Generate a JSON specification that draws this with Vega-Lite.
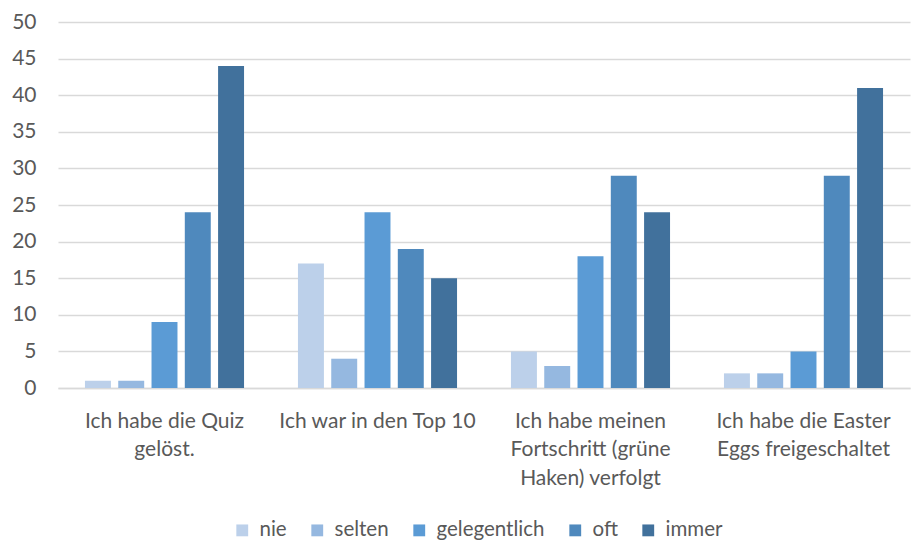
{
  "$schema": "https://vega.github.io/schema/vega-lite/v6.json",
  "autosize": "none",
  "width": 852,
  "height": 366,
  "padding": {"left": 58, "top": 22, "right": 9, "bottom": 154},
  "background": "white",
  "config": {
    "view": {"stroke": null},
    "font": "Lato",
    "axis": {"labelFont": "Lato", "labelColor": "#595959", "labelFontSize": 21, "domain": false, "ticks": false, "title": null},
    "legend": {"labelFont": "Lato", "labelColor": "#595959", "labelFontSize": 20.5}
  },
  "data": {
    "values": [
      {"item": "Ich habe die Quiz|gelöst.", "freq": "nie", "n": 1},
      {"item": "Ich habe die Quiz|gelöst.", "freq": "selten", "n": 1},
      {"item": "Ich habe die Quiz|gelöst.", "freq": "gelegentlich", "n": 9},
      {"item": "Ich habe die Quiz|gelöst.", "freq": "oft", "n": 24},
      {"item": "Ich habe die Quiz|gelöst.", "freq": "immer", "n": 44},
      {"item": "Ich war in den Top 10", "freq": "nie", "n": 17},
      {"item": "Ich war in den Top 10", "freq": "selten", "n": 4},
      {"item": "Ich war in den Top 10", "freq": "gelegentlich", "n": 24},
      {"item": "Ich war in den Top 10", "freq": "oft", "n": 19},
      {"item": "Ich war in den Top 10", "freq": "immer", "n": 15},
      {"item": "Ich habe meinen|Fortschritt (grüne|Haken) verfolgt", "freq": "nie", "n": 5},
      {"item": "Ich habe meinen|Fortschritt (grüne|Haken) verfolgt", "freq": "selten", "n": 3},
      {"item": "Ich habe meinen|Fortschritt (grüne|Haken) verfolgt", "freq": "gelegentlich", "n": 18},
      {"item": "Ich habe meinen|Fortschritt (grüne|Haken) verfolgt", "freq": "oft", "n": 29},
      {"item": "Ich habe meinen|Fortschritt (grüne|Haken) verfolgt", "freq": "immer", "n": 24},
      {"item": "Ich habe die Easter|Eggs freigeschaltet", "freq": "nie", "n": 2},
      {"item": "Ich habe die Easter|Eggs freigeschaltet", "freq": "selten", "n": 2},
      {"item": "Ich habe die Easter|Eggs freigeschaltet", "freq": "gelegentlich", "n": 5},
      {"item": "Ich habe die Easter|Eggs freigeschaltet", "freq": "oft", "n": 29},
      {"item": "Ich habe die Easter|Eggs freigeschaltet", "freq": "immer", "n": 41}
    ]
  },
  "mark": {"type": "bar"},
  "encoding": {
    "x": {
      "field": "item", "type": "nominal", "sort": null,
      "scale": {"paddingInner": 0, "paddingOuter": 0},
      "axis": {"labelAngle": 0, "labelExpr": "split(datum.label, '|')", "labelLineHeight": 28.5, "labelPadding": 22, "labelBaseline": "top", "grid": false, "domain": true, "domainColor": "#D9D9D9", "domainWidth": 1.5, "labelLimit": 300}
    },
    "xOffset": {
      "field": "freq", "type": "nominal", "sort": ["nie", "selten", "gelegentlich", "oft", "immer"],
      "scale": {"paddingInner": 0.22, "paddingOuter": 0.81}
    },
    "y": {
      "field": "n", "type": "quantitative",
      "scale": {"domain": [0, 50]},
      "axis": {"values": [0, 5, 10, 15, 20, 25, 30, 35, 40, 45, 50], "gridColor": "#D9D9D9", "gridWidth": 1.5, "labelPadding": 22}
    },
    "color": {
      "field": "freq", "type": "nominal", "sort": ["nie", "selten", "gelegentlich", "oft", "immer"],
      "scale": {"domain": ["nie", "selten", "gelegentlich", "oft", "immer"], "range": ["#BCD0EA", "#95B8E0", "#5B9BD5", "#4F89BD", "#41719C"]},
      "legend": {"title": null, "orient": "none", "legendX": 174, "legendY": 498, "direction": "horizontal", "symbolType": "square", "symbolSize": 140, "symbolStrokeWidth": 0, "columnPadding": 20, "labelOffset": 7}
    }
  }
}
